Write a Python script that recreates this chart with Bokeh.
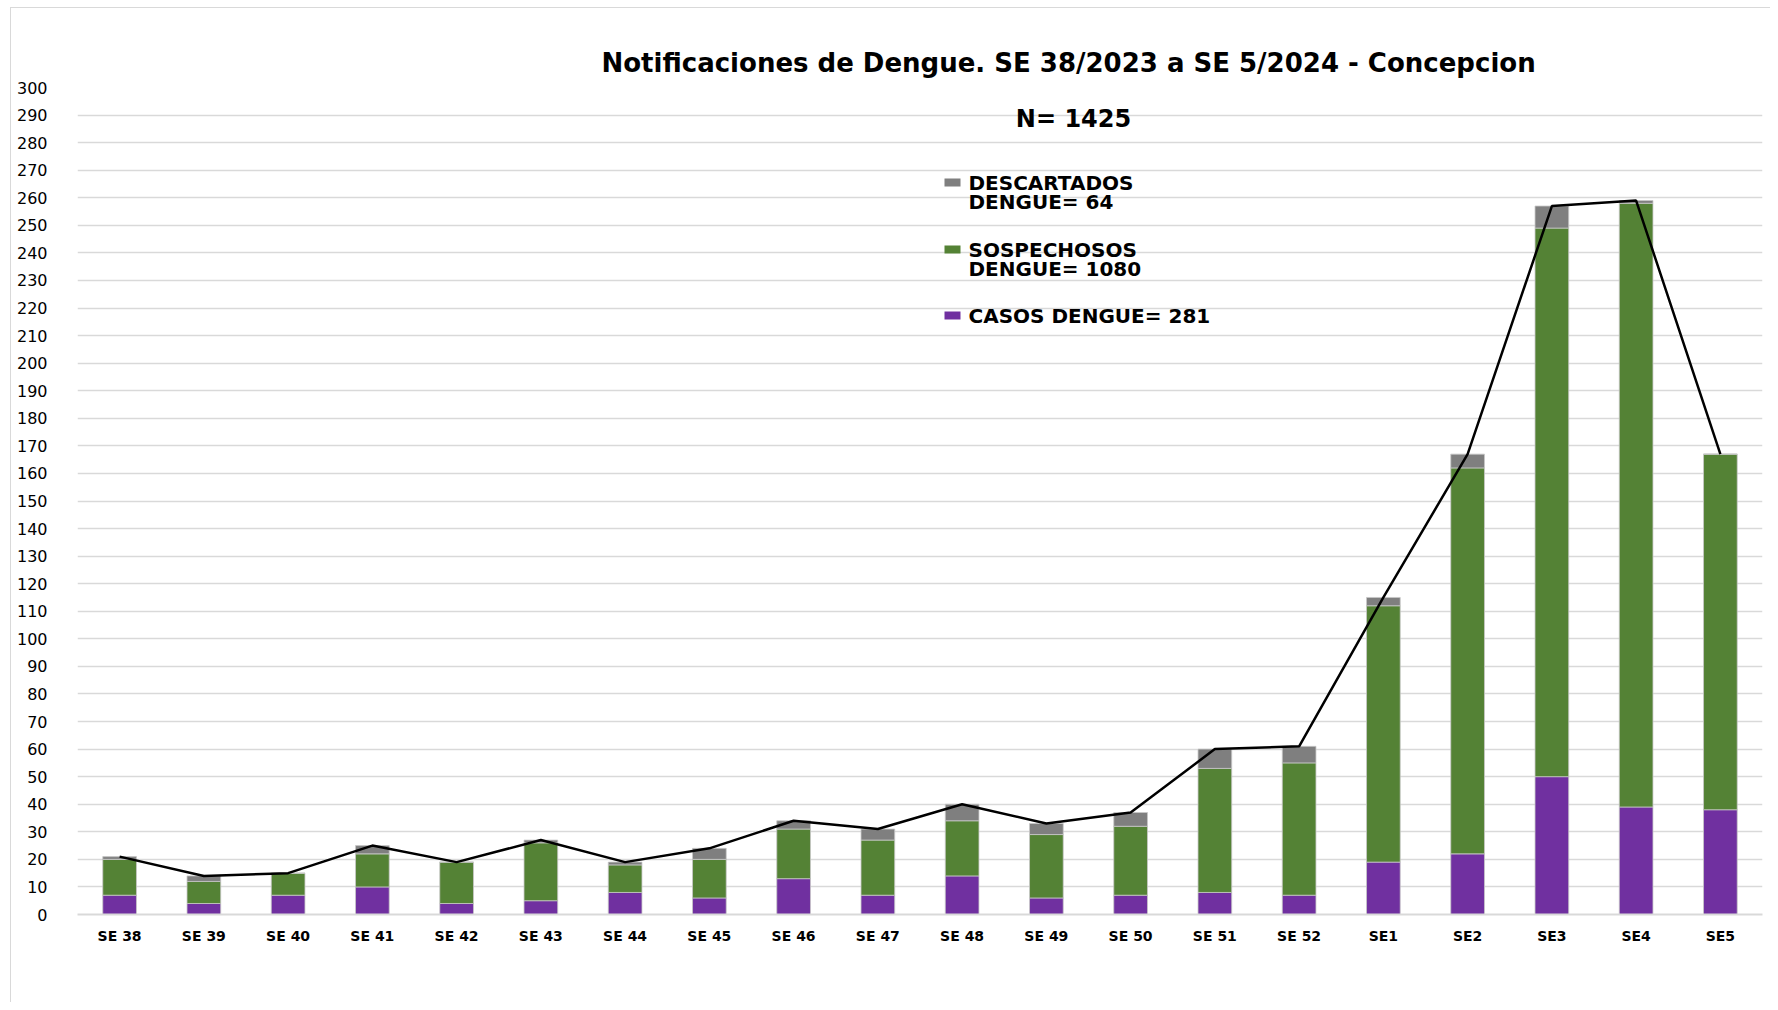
from bokeh.plotting import figure
from bokeh.models import FactorRange, Label, BoxAnnotation, ColumnDataSource
from bokeh.embed import file_html
from bokeh.resources import INLINE

semanas = ["SE 38", "SE 39", "SE 40", "SE 41", "SE 42", "SE 43", "SE 44", "SE 45",
           "SE 46", "SE 47", "SE 48", "SE 49", "SE 50", "SE 51", "SE 52",
           "SE1", "SE2", "SE3", "SE4", "SE5"]
casos = [7, 4, 7, 10, 4, 5, 8, 6, 13, 7, 14, 6, 7, 8, 7, 19, 22, 50, 39, 38]
sospechosos = [13, 8, 8, 12, 15, 21, 10, 14, 18, 20, 20, 23, 25, 45, 48, 93, 140, 199, 219, 129]
descartados = [1, 2, 0, 3, 0, 1, 1, 4, 3, 4, 6, 4, 5, 7, 6, 3, 5, 8, 1, 0]
total = [c + s + d for c, s, d in zip(casos, sospechosos, descartados)]
y_ticks = list(range(0, 301, 10))

titulo = "Notificaciones de Dengue. SE 38/2023 a SE 5/2024 - Concepcion"
n_texto = "N= %d" % sum(total)
leyenda = [
    ("#7F7F7F", ["DESCARTADOS", "DENGUE= %d" % sum(descartados)]),
    ("#548235", ["SOSPECHOSOS", "DENGUE= %d" % sum(sospechosos)]),
    ("#7030A0", ["CASOS DENGUE= %d" % sum(casos)]),
]

src = ColumnDataSource(dict(semana=semanas, casos=casos, sospechosos=sospechosos,
                            descartados=descartados, total=total))

p = figure(x_range=FactorRange(*semanas, range_padding=0), y_range=(0, 300),
           width=1760, height=995, output_backend="svg", toolbar_location=None,
           min_border_left=66, min_border_right=9, min_border_top=79, min_border_bottom=89,
           title=titulo)

p.title.align = "left"
p.title.offset = 524
p.title.standoff = 19
p.title.text_font = "DejaVu Sans"
p.title.text_font_style = "bold"
p.title.text_font_size = "26px"
p.title.text_color = "black"

p.vbar_stack(["casos", "sospechosos", "descartados"], x="semana", width=0.4, source=src,
             color=["#7030A0", "#548235", "#7F7F7F"], line_color="#c8c8c8", line_width=0.8)
p.line(x="semana", y="total", source=src, line_color="black", line_width=2.5)

p.outline_line_color = None
p.xgrid.grid_line_color = None
p.ygrid.grid_line_color = "#d9d9d9"
p.ygrid.grid_line_width = 1.5
p.yaxis.ticker = y_ticks
p.yaxis.axis_line_color = None
p.yaxis.major_tick_line_color = None
p.yaxis.minor_tick_line_color = None
p.yaxis.major_label_standoff = 24
p.yaxis.major_label_text_font = "DejaVu Sans"
p.yaxis.major_label_text_font_size = "16px"
p.yaxis.major_label_text_color = "black"
p.xaxis.axis_line_color = "#d9d9d9"
p.xaxis.axis_line_width = 2
p.xaxis.major_tick_line_color = None
p.xaxis.minor_tick_line_color = None
p.xaxis.major_label_standoff = 7
p.xaxis.major_label_text_font = "DejaVu Sans"
p.xaxis.major_label_text_font_style = "bold"
p.xaxis.major_label_text_font_size = "14px"
p.xaxis.major_label_text_color = "black"

p.add_layout(Label(x=996, y=796, x_units="screen", y_units="screen", text=n_texto,
                   text_align="center", text_baseline="middle", text_font="DejaVu Sans",
                   text_font_style="bold", text_font_size="24px", text_color="black"))

y_pos = [732, 665, 599]
for (col, lines), yy in zip(leyenda, y_pos):
    p.add_layout(BoxAnnotation(left=867, right=883, bottom=yy - 4, top=yy + 4,
                               left_units="screen", right_units="screen",
                               bottom_units="screen", top_units="screen",
                               fill_color=col, fill_alpha=1, line_color=None))
    for i, t in enumerate(lines):
        p.add_layout(Label(x=891, y=yy - 19 * i, x_units="screen", y_units="screen", text=t,
                           text_align="left", text_baseline="middle", text_font="DejaVu Sans",
                           text_font_style="bold", text_font_size="20px", text_color="black"))

p.styles = {"margin-left": "10px", "margin-top": "7px",
            "border-left": "1px solid #d9d9d9", "border-top": "1px solid #d9d9d9"}

open("out.html", "w").write(file_html(p, INLINE))
